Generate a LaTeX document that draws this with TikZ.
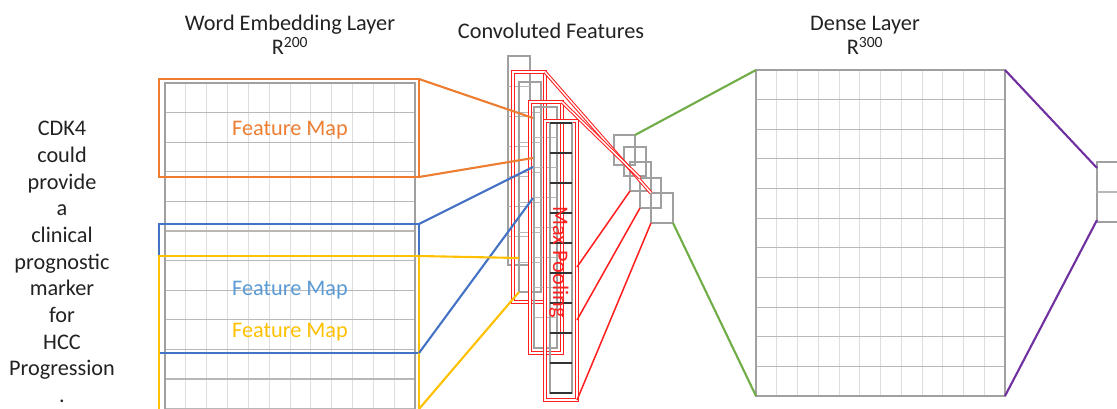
\documentclass[tikz,border=0pt]{standalone}
\usepackage{fontspec}
\setmainfont{Carlito}
\usetikzlibrary{fit}
\definecolor{cOr}{HTML}{ED7D31}
\definecolor{cBl}{HTML}{4472C4}
\definecolor{cBlt}{HTML}{5B9BD5}
\definecolor{cYe}{HTML}{FFC000}
\definecolor{cGr}{HTML}{70AD47}
\definecolor{cPu}{HTML}{7030A0}
\definecolor{cRd}{HTML}{FF2020}
\definecolor{gMaj}{HTML}{B8B8B8}
\definecolor{gMin}{HTML}{DDDDDD}
\definecolor{gBox}{HTML}{A0A0A0}
\definecolor{txt}{HTML}{222222}
\begin{document}
\begin{tikzpicture}[x=0.03cm,y=-0.03cm,
  lbl/.style={font=\fontsize{19}{22.8}\selectfont, inner sep=0, text=txt},
  frame/.style={inner sep=0, outer sep=0, draw=gBox, line width=1.1pt},
  fmap/.style={inner sep=0, outer sep=0, draw=#1, line width=1.8pt},
  gcol/.style={inner sep=0, outer sep=0, draw=gBox, line width=1.2pt},
  rbox/.style={inner sep=0, outer sep=0, draw=cRd, line width=0.9pt, double=white, double distance=1.2pt},
  sq/.style={inner sep=0, outer sep=0, draw=gBox, line width=1.2pt},
  link/.style={draw=#1, line width=1.8pt},
  rlink/.style={draw=cRd, line width=0.9pt, double=white, double distance=1.2pt},
  rline/.style={draw=cRd, line width=1.3pt}
]
\useasboundingbox (0,0) rectangle (1117,408);
\clip (0,0) rectangle (1117,408);

% ---------- titles ----------
\node[lbl] (t1) at (290,25) {Word Embedding Layer};
\node[lbl] (t1r) at (290,46) {R\textsuperscript{200}};
\node[lbl] (t2) at (551,31) {Convoluted Features};
\node[lbl] (t3) at (865,25) {Dense Layer};
\node[lbl] (t3r) at (865,46) {R\textsuperscript{300}};

% ---------- sentence ----------
\node[lbl, align=center] (sent) at (62,262)
  {CDK4\\could\\provide\\a\\clinical\\prognostic\\marker\\for\\HCC\\Progression\\.};

% ---------- word embedding grid ----------
\foreach \i in {1,...,11} \draw[gMin, line width=0.7pt] ({165+\i*250/12},83) -- ({165+\i*250/12},420);
\foreach \j in {1,...,11} \draw[gMaj, line width=0.9pt] (165,{83+\j*29.6}) -- (415,{83+\j*29.6});
\node[frame, fit={(165,83) (415,420)}] (emb) {};

% ---------- feature maps ----------
\node[fmap=cOr, fit={(159,79) (419,177)}] (fo) {};
\node[fmap=cBl, fit={(159,224) (419,353)}] (fb) {};
\node[fmap=cYe, fit={(159,256) (419,430)}] (fy) {};
\node[lbl, text=cOr] (lo) at (290,130) {Feature Map};
\node[lbl, text=cBlt] (lb) at (290,290) {Feature Map};
\node[lbl, text=cYe] (ly) at (290,332) {Feature Map};

% ---------- convolution columns ----------
\node[gcol, fit={(508,56) (530,265)}] (c1) {};
\foreach \k in {1,...,6} \draw[gMaj, line width=0.8pt] (508,{56+30*\k}) -- (530,{56+30*\k});
\node[rbox, fit={(513,72) (545,302)}] (r1) {};
\node[gcol, fit={(519,82) (541,292)}] (c2) {};
\foreach \k in {1,...,6} \draw[gMaj, line width=0.8pt] (519,{82+30*\k}) -- (541,{82+30*\k});
\node[rbox, fit={(530,102) (562,353)}] (r2) {};
\node[gcol, fit={(534,107) (557,348)}] (c3) {};
\foreach \k in {1,...,7} \draw[gMaj, line width=0.8pt] (534,{107+30*\k}) -- (557,{107+30*\k});
\node[rbox, fit={(545,121) (577,400)}] (r3) {};
\node[gcol, fit={(550,123) (572,393)}] (bc) {};
\foreach \k in {0,...,9} \draw[black!80, line width=1.4pt] (550,{123+30*\k}) -- (572,{123+30*\k});
\node[lbl, text=cRd, rotate=-90] (mp) at (559,262) {Max Pooling};

% ---------- pooled squares ----------
\node[sq, fit={(614,135) (635,165)}] (s1) {};
\node[sq, fit={(624,147) (646,176)}] (s2) {};
\node[sq, fit={(630,162) (651,191)}] (s3) {};
\node[sq, fit={(640,178) (661,208)}] (s4) {};
\node[sq, fit={(651,193) (673,223)}] (s5) {};

% ---------- dense layer ----------
\foreach \i in {1,...,11} \draw[gMin, line width=0.7pt] ({756+\i*249/12},70) -- ({756+\i*249/12},396);
\foreach \j in {1,...,10} \draw[gMaj, line width=0.9pt] (756,{70+\j*29.64}) -- (1005,{70+\j*29.64});
\node[frame, fit={(756,70) (1005,396)}] (dense) {};

% ---------- output ----------
\node[frame, fit={(1097,162) (1130,222)}] (out) {};
\draw[gMaj, line width=0.9pt] (out.west) -- (out.east);

% ---------- end points ----------
\coordinate (oa) at (533,118);
\coordinate (ob) at (533,158);
\coordinate (ba) at (533,167);
\coordinate (bb) at (533,198);
\coordinate (ya) at (519,258);
\coordinate (yb) at (519,292);
\coordinate (ys) at (419,409);
\coordinate (pa) at (577,267);
\coordinate (pb) at (577,320);
\coordinate (qa) at (1097,168);
\coordinate (qb) at (1097,220);

% ---------- connectors ----------
\draw[link=cOr] (fo.north east) -- (oa);
\draw[link=cOr] (fo.south east) -- (ob);
\draw[link=cBl] (fb.north east) -- (ba);
\draw[link=cBl] (fb.south east) -- (bb);
\draw[link=cYe] (fy.north east) -- (ya);
\draw[link=cYe] (ys) -- (yb);

\draw[rlink] (r1.north east) -- (s5.north west);
\draw[rlink] (r2.north east) -- (s4.north west);
\draw[rline] (pa) -- (s3.south west);
\draw[rline] (pb) -- (s4.south west);
\draw[rline] (r3.south east) -- (s5.south west);

\draw[link=cGr] (s1.north east) -- (dense.north west);
\draw[link=cGr] (s5.south east) -- (dense.south west);
\draw[link=cPu] (dense.north east) -- (qa);
\draw[link=cPu] (dense.south east) -- (qb);
\end{tikzpicture}
\end{document}
